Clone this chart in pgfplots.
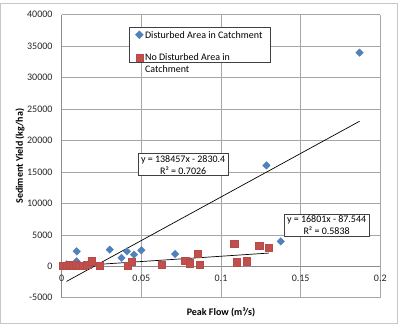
\documentclass[border=0pt]{standalone}
\usepackage{fontspec}
\setmainfont{Carlito}
\usepackage{pgfplots}
\pgfplotsset{compat=1.18}
\definecolor{distblue}{HTML}{4F81BD}
\definecolor{nodistred}{HTML}{C0504D}
\definecolor{nodistedge}{HTML}{B84A47}

% Peak flow (m^3/s) vs sediment yield (kg/ha)
\pgfplotstableread{
x y
0.003 300
0.0094 790
0.0094 2370
0.0302 2640
0.0375 1330
0.041 2370
0.0454 1850
0.05 2530
0.0712 1960
0.1285 16040
0.1375 3955
0.187 33965
}\disturbed

\pgfplotstableread{
x y
0.001 150
0.003 50
0.005 200
0.007 100
0.009 250
0.011 50
0.013 150
0.016 300
0.0187 790
0.024 100
0.0415 150
0.044 700
0.063 270
0.0775 900
0.0804 475
0.0854 2010
0.0866 220
0.1083 3540
0.11 630
0.1162 790
0.124 3270
0.13 2900
}\undisturbed

\begin{document}
\fontsize{10bp}{12bp}\selectfont
\begin{tikzpicture}
\useasboundingbox (0,0) rectangle (400bp,325bp);
\draw[black!22, line width=0.8bp] (0.5bp,1.7bp) rectangle (397.7bp,321.7bp);
\begin{axis}[
  at={(61.7bp,27.3bp)}, anchor=south west,
  scale only axis, width=318.6bp, height=283bp,
  xmin=0, xmax=0.2, ymin=-5000, ymax=40000,
  axis x line=middle, axis y line=left,
  axis line style={-, draw=black!45, line width=0.7bp},
  xtick={0,0.05,0.1,0.15,0.2},
  xticklabels={0,0.05,0.1,0.15,0.2},
  ytick={-5000,0,5000,10000,15000,20000,25000,30000,35000,40000},
  grid=major, grid style={black!35, line width=0.6bp},
  major tick length=0pt,
  scaled ticks=false,
  hide obscured x ticks=false, hide obscured y ticks=false,
  /pgf/number format/1000 sep={},
  /pgf/number format/assume math mode=true,
  tick label style={font=\fontsize{10bp}{12bp}\selectfont, text=black!85},
  xticklabel style={inner sep=0pt, anchor=north, yshift=-8.5bp},
  yticklabel style={inner sep=0pt, anchor=east, xshift=-9bp},
  every axis x label/.style={at={(axis description cs:0.5,-0.0505)}, anchor=center, font=\fontsize{10bp}{12bp}\selectfont\bfseries},
  every axis y label/.style={at={(axis description cs:-0.1309,0.5)}, rotate=90, anchor=center, font=\fontsize{10bp}{12bp}\selectfont\bfseries},
  xlabel={Peak Flow (m³/s)},
  ylabel={Sediment Yield (kg/ha)},
  clip=false,
  legend style={at={(axis description cs:0.2122,0.9555)}, anchor=north west,
    draw=black!75, line width=0.6bp, fill=white,
    inner xsep=6bp, inner ysep=1.5bp, row sep=12bp,
    font=\fontsize{10bp}{12bp}\selectfont,
    cells={anchor=base west}},
]
\addplot[only marks, mark=square*, mark size=2.65bp,
  mark options={rotate=45, fill=distblue, draw=distblue}]
  table[x=x, y=y] {\disturbed};
\addlegendentry{\raisebox{-3.3bp}{Disturbed Area in Catchment}}
\addplot[only marks, mark=square*, mark size=3.6bp,
  mark options={fill=nodistred, draw=nodistedge, line width=0.4bp}]
  table[x=x, y=y] {\undisturbed};
\addlegendentry{\raisebox{-3.3bp}[\dimexpr\height-3.3bp\relax][\dimexpr\depth-2.7bp\relax]{\begin{tabular}[t]{@{}l@{}}No Disturbed Area in\\Catchment\end{tabular}}}

% linear trendlines across the range of each series
\addplot[black, line width=0.7bp, forget plot] coordinates {(0.003,-2415) (0.187,23061)};
\addplot[black, line width=0.7bp, forget plot] coordinates {(0.001,-71) (0.13,2097)};

\node[draw=black!75, fill=white, line width=0.6bp, align=center,
  inner xsep=3bp, inner ysep=1.5bp, font=\fontsize{10bp}{12bp}\selectfont]
  at (axis cs:0.07625,16140) {y = 138457x - 2830.4\\R² = 0.7026};
\node[draw=black!75, fill=white, line width=0.6bp, align=center,
  inner xsep=3bp, inner ysep=1.5bp, font=\fontsize{10bp}{12bp}\selectfont]
  at (axis cs:0.1663,6565) {y = 16801x - 87.544\\R² = 0.5838};
\end{axis}
\end{tikzpicture}
\end{document}
